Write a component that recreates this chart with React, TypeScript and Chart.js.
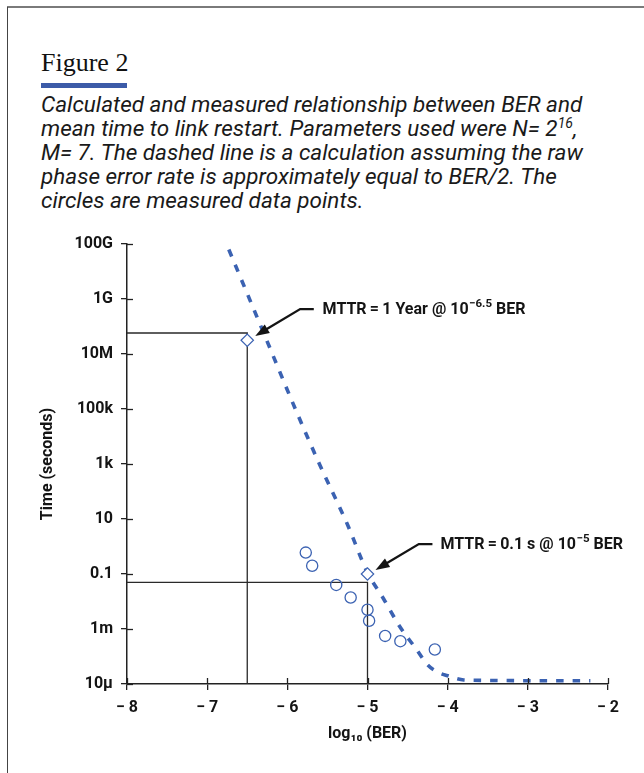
import React, { useEffect, useRef } from "react";
import { Chart, registerables } from "chart.js";

Chart.register(...registerables);

// ---- data ----
const yTickValues = [1e-5, 1e-3, 1e-1, 1e1, 1e3, 1e5, 1e7, 1e9, 1e11];
const yTickLabels = ["10µ", "1m", "0.1", "10", "1k", "100k", "10M", "1G", "100G"];
const xTickValues = [-8, -7, -6, -5, -4, -3, -2];
const xTickLabels = ["− 8", "− 7", "− 6", "− 5", "− 4", "− 3", "− 2"];

// calculated curve (dashed)
const calcLogBER = [-6.73, -6.3, -5.9, -5.6, -5.25, -5.0, -4.8, -4.6, -4.4, -4.25, -4.1, -4.0, -3.9, -3.8, -3.5, -3.0, -2.5, -2.22];
const calcTime = [6.3e10, 6.3e7, 1e5, 1e3, 6.3, 0.112, 0.0126, 1.26e-3, 2.0e-4, 5.0e-5, 2.5e-5, 2.0e-5, 1.6e-5, 1.4e-5, 1.35e-5, 1.32e-5, 1.32e-5, 1.32e-5];

// measured points (circles)
const measuredLogBER = [-5.77, -5.69, -5.39, -5.21, -5.0, -4.98, -4.78, -4.59, -4.16];
const measuredTime = [0.6, 0.2, 0.04, 0.014, 0.005, 0.002, 5.6e-4, 3.6e-4, 1.8e-4];

// diamond markers
const markerLogBER = [-6.5, -5.0];
const markerTime = [3.15e7, 0.1];

// guide lines
const guide1LogBER = [-8, -6.5, -6.5];
const guide1Time = [5.8e7, 5.8e7, 1e-5];
const guide2LogBER = [-8, -5.0, -5.0];
const guide2Time = [0.05, 0.05, 1e-5];

// annotations
const annotMain = ["MTTR\u2009=\u20091 Year @ 10", "MTTR\u2009=\u20090.1 s @ 10"];
const annotSup = ["−6.5", "−5"];
const annotSuffix = [" BER", " BER"];
const arrowTipLogBER = [-6.4, -4.9];
const arrowTipTime = [4.5e7, 0.14];
const arrowTailLogBER = [-5.84, -4.36];
const arrowTailTime = [4.3e8, 1.23];
const arrowShelfLogBER = [-5.67, -4.19];
const labelLogBER = [-5.56, -4.09];

const captionLines = [
  "Calculated and measured relationship between BER and",
  "mean time to link restart. Parameters used were N= 2",
  "M= 7. The dashed line is a calculation assuming the raw",
  "phase error rate is approximately equal to BER/2. The",
  "circles are measured data points.",
];

const BLUE = "#3b62b2";
const INK = "#141414";
const FONT_FAMILY = 'Roboto, "DejaVu Sans", sans-serif';

const pts = (xs: number[], ys: number[]) => xs.map((x, i) => ({ x, y: ys[i] }));

const annotationPlugin = {
  id: "annot",
  afterDraw(chart: any) {
    const ctx = chart.ctx as CanvasRenderingContext2D;
    const xs = chart.scales.x;
    const ys = chart.scales.y;
    const area = chart.chartArea;
    ctx.save();
    // inner tick halves
    ctx.strokeStyle = "#222";
    ctx.lineWidth = 1.3;
    xTickValues.forEach((v) => {
      const px = Math.round(xs.getPixelForValue(v)) + 0.5;
      ctx.beginPath();
      ctx.moveTo(px, area.bottom);
      ctx.lineTo(px, area.bottom - 6);
      ctx.stroke();
    });
    yTickValues.forEach((v) => {
      const py = Math.round(ys.getPixelForValue(v)) + 0.5;
      ctx.beginPath();
      ctx.moveTo(area.left, py);
      ctx.lineTo(area.left + 6, py);
      ctx.stroke();
    });
    // arrows + labels
    for (let i = 0; i < annotMain.length; i++) {
      const tipX = xs.getPixelForValue(arrowTipLogBER[i]);
      const tipY = ys.getPixelForValue(arrowTipTime[i]);
      const tailX = xs.getPixelForValue(arrowTailLogBER[i]);
      const tailY = ys.getPixelForValue(arrowTailTime[i]);
      const shelfX = xs.getPixelForValue(arrowShelfLogBER[i]);
      const ang = Math.atan2(tipY - tailY, tipX - tailX);
      const headLen = 14;
      const headHalf = 5;
      const baseX = tipX - Math.cos(ang) * headLen;
      const baseY = tipY - Math.sin(ang) * headLen;
      ctx.strokeStyle = INK;
      ctx.fillStyle = INK;
      ctx.lineWidth = 2.3;
      ctx.beginPath();
      ctx.moveTo(shelfX, tailY);
      ctx.lineTo(tailX, tailY);
      ctx.lineTo(baseX + Math.cos(ang) * 2, baseY + Math.sin(ang) * 2);
      ctx.stroke();
      ctx.beginPath();
      ctx.moveTo(tipX, tipY);
      ctx.lineTo(baseX + Math.sin(ang) * headHalf, baseY - Math.cos(ang) * headHalf);
      ctx.lineTo(baseX - Math.sin(ang) * headHalf, baseY + Math.cos(ang) * headHalf);
      ctx.closePath();
      ctx.fill();

      let lx = xs.getPixelForValue(labelLogBER[i]);
      const ly = tailY + 1;
      ctx.textBaseline = "middle";
      ctx.textAlign = "left";
      ctx.font = `bold 16px ${FONT_FAMILY}`;
      ctx.fillText(annotMain[i], lx, ly);
      lx += ctx.measureText(annotMain[i]).width + 0.5;
      ctx.font = `bold 11.5px ${FONT_FAMILY}`;
      ctx.fillText(annotSup[i], lx, ly - 5.5);
      lx += ctx.measureText(annotSup[i]).width;
      ctx.font = `bold 16px ${FONT_FAMILY}`;
      ctx.fillText(annotSuffix[i], lx, ly);
    }
    ctx.restore();
  },
};

export default function App() {
  const canvasRef = useRef<HTMLCanvasElement | null>(null);

  useEffect(() => {
    const canvas = canvasRef.current;
    if (!canvas) return;
    const tickFont = { family: FONT_FAMILY, size: 16, weight: "bold" as const };
    const chart = new Chart(canvas, {
      type: "scatter",
      data: {
        datasets: [
          {
            type: "line",
            data: pts(guide1LogBER, guide1Time),
            borderColor: "#2a2a2a",
            borderWidth: 1.3,
            pointRadius: 0,
            fill: false,
            tension: 0,
            order: 5,
          } as any,
          {
            type: "line",
            data: pts(guide2LogBER, guide2Time),
            borderColor: "#2a2a2a",
            borderWidth: 1.3,
            pointRadius: 0,
            fill: false,
            tension: 0,
            order: 5,
          } as any,
          {
            type: "line",
            data: pts(calcLogBER, calcTime),
            borderColor: BLUE,
            borderWidth: 3.6,
            borderDash: [7.5, 9],
            borderCapStyle: "butt",
            pointRadius: 0,
            fill: false,
            cubicInterpolationMode: "monotone",
            order: 3,
          } as any,
          {
            data: pts(measuredLogBER, measuredTime),
            pointStyle: "circle",
            pointRadius: 5.6,
            borderColor: BLUE,
            borderWidth: 1.3,
            backgroundColor: "rgba(0,0,0,0)",
            order: 2,
          } as any,
          {
            data: pts(markerLogBER, markerTime),
            pointStyle: "rectRot",
            pointRadius: 6.2,
            borderColor: BLUE,
            borderWidth: 1.2,
            backgroundColor: "#ffffff",
            order: 1,
          } as any,
        ],
      },
      options: {
        animation: false,
        responsive: false,
        events: [],
        layout: { padding: { left: 0, top: 244, right: 36, bottom: 29 } },
        plugins: { legend: { display: false }, tooltip: { enabled: false } },
        scales: {
          x: {
            type: "linear",
            min: -8,
            max: -2,
            afterBuildTicks: (s: any) => {
              s.ticks = xTickValues.map((v) => ({ value: v }));
            },
            afterFit: (s: any) => {
              s.height = 60;
            },
            ticks: {
              autoSkip: false,
              maxRotation: 0,
              padding: 8,
              color: INK,
              font: tickFont,
              callback: (v: any) => {
                const i = xTickValues.findIndex((t) => Math.abs(t - Number(v)) < 1e-9);
                return i >= 0 ? xTickLabels[i] : "";
              },
            },
            grid: { display: true, drawOnChartArea: false, drawTicks: true, tickLength: 6, color: "#222", lineWidth: 1.3 },
            border: { display: true, color: "#222", width: 1.5 },
            title: { display: true, text: "log₁₀ (BER)", color: INK, font: tickFont, padding: { top: 0, bottom: 0 } },
          },
          y: {
            type: "logarithmic",
            min: 1e-5,
            max: 1e11,
            afterBuildTicks: (s: any) => {
              s.ticks = yTickValues.map((v) => ({ value: v }));
            },
            afterFit: (s: any) => {
              s.width = 127;
            },
            ticks: {
              autoSkip: false,
              padding: 8,
              color: INK,
              font: tickFont,
              callback: (v: any) => {
                const i = yTickValues.findIndex((t) => Math.abs(Math.log10(t) - Math.log10(Number(v))) < 1e-6);
                return i >= 0 ? yTickLabels[i] : "";
              },
            },
            grid: { display: true, drawOnChartArea: false, drawTicks: true, tickLength: 6, color: "#222", lineWidth: 1.3 },
            border: { display: true, color: "#222", width: 1.5 },
            title: { display: true, text: "Time (seconds)", color: INK, font: tickFont, padding: { top: 38, bottom: 0 } },
          },
        },
      } as any,
      plugins: [annotationPlugin],
    });
    return () => chart.destroy();
  }, []);

  return (
    <div style={{ position: "absolute", left: 0, top: 0, width: 644, height: 773, overflow: "hidden", background: "#fff" }}>
      <div style={{ position: "absolute", left: 7, top: 6, width: 637, height: 2, background: "#7a7a7a" }} />
      <div style={{ position: "absolute", left: 7, top: 7, width: 1, height: 766, background: "#444" }} />
      <div
        style={{
          position: "absolute",
          left: 41,
          top: 50,
          fontFamily: '"Liberation Serif", "DejaVu Serif", serif',
          fontSize: 26,
          lineHeight: "26px",
          color: "#111",
          whiteSpace: "nowrap",
        }}
      >
        Figure 2
      </div>
      <div style={{ position: "absolute", left: 41, top: 83, width: 86, height: 5, background: "#3c5ba8" }} />
      <div
        style={{
          position: "absolute",
          left: 41,
          top: 92,
          fontFamily: 'Roboto, "Open Sans", sans-serif',
          fontStyle: "italic",
          fontWeight: 400,
          fontSize: 22.5,
          lineHeight: "24px",
          color: "#1a1a1a",
          whiteSpace: "nowrap",
        }}
      >
        <div>{captionLines[0]}</div>
        <div>
          {captionLines[1]}
          <sup style={{ fontSize: 14, lineHeight: 0, verticalAlign: "8px" }}>16</sup>,
        </div>
        <div>{captionLines[2]}</div>
        <div>{captionLines[3]}</div>
        <div>{captionLines[4]}</div>
      </div>
      <canvas
        ref={canvasRef}
        width={644}
        height={773}
        style={{ position: "absolute", left: 0, top: 0, width: 644, height: 773 }}
      />
    </div>
  );
}
